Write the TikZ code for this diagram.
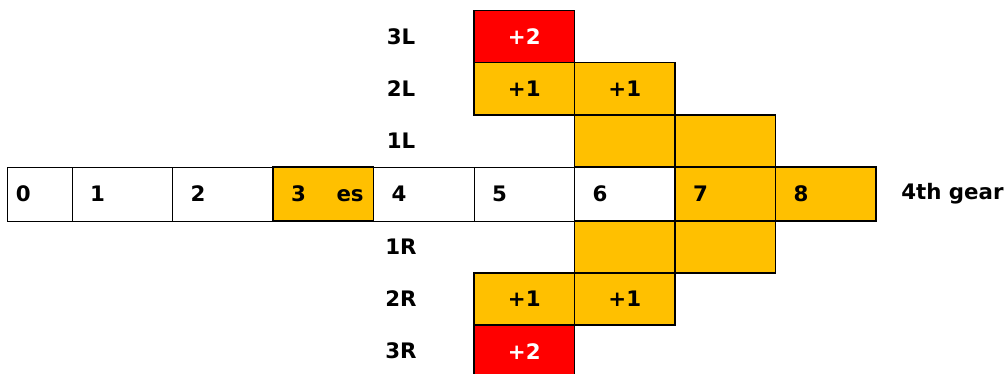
\documentclass[tikz,border=0pt]{standalone}
\usepackage{fontspec}
\setmainfont{DejaVu Sans}
\usepackage{xcolor}
\usetikzlibrary{positioning}
\definecolor{gearorange}{HTML}{FFC000}
\definecolor{gearred}{HTML}{FF0000}
\tikzset{
  cell/.style={draw=black, line width=0.5pt, fill=white, anchor=north west, outer sep=0pt,
    minimum height=40.5pt, inner xsep=13.5pt, inner ysep=0pt, text width=48.4pt, align=left,
    font=\fontsize{16}{19}\selectfont\bfseries},
  cellfirst/.style={cell, inner xsep=6.75pt, text width=35.25pt},
  hotcell/.style={cell, fill=gearorange, line width=1.3pt},
  pluscell/.style={hotcell, minimum height=39.2pt, align=center},
  redcell/.style={pluscell, fill=gearred, text=white},
  rowlabel/.style={inner sep=0pt, font=\fontsize{16}{19}\selectfont\bfseries}
}
\begin{document}
\begin{tikzpicture}[x=0.75pt,y=-0.75pt]
  \useasboundingbox (0,0) rectangle (1005,374);
  \clip (0,0) rectangle (1005,374);
  % 4th gear row
  \node[cellfirst] (c0) at (7,167) {0};
  \foreach \n/\xx in {1/72,2/172.5,4/373.5,5/474,6/574.5}{
    \node[cell] (c\n) at (\xx,167) {\n};
  }
  \node[hotcell] (c3) at (273,167) {\rlap{3\hspace{23pt}es}};
  \node[hotcell] (c7) at (675,167) {7};
  \node[hotcell] (c8) at (775.5,167) {8};
  \node[rowlabel, right=18.75pt of c8] (gear) {4th gear};
  % left shifts
  \node[redcell] (l3) at (474,10.5) {+2};
  \node[pluscell] (l2a) at (474,62.5) {+1};
  \node[pluscell] (l2b) at (574.5,62.5) {+1};
  \node[pluscell] (l1a) at (574.5,115) {};
  \node[pluscell] (l1b) at (675,115) {};
  % right shifts
  \node[pluscell] (r1a) at (574.5,221) {};
  \node[pluscell] (r1b) at (675,221) {};
  \node[pluscell] (r2a) at (474,273) {+1};
  \node[pluscell] (r2b) at (574.5,273) {+1};
  \node[redcell] (r3) at (474,325) {+2};
  \foreach \lab/\yy in {3L/36.5,2L/88.8,1L/141,1R/247,2R/299,3R/351}{
    \node[rowlabel] (lab\lab) at (401,\yy) {\lab};
  }
\end{tikzpicture}
\end{document}
